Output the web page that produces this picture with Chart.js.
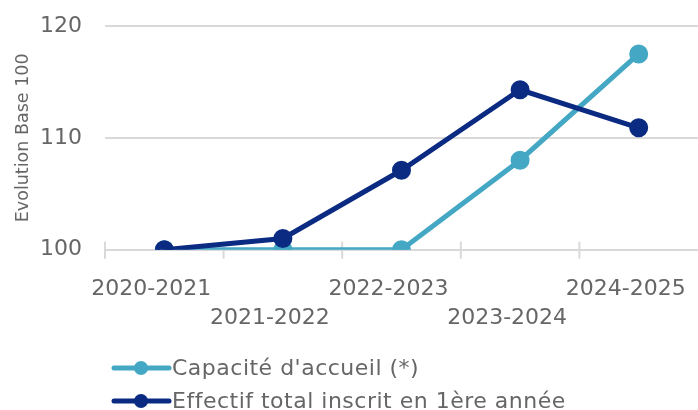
<!DOCTYPE html>
<html>
<head>
<meta charset="utf-8">
<script src="https://cdn.jsdelivr.net/npm/chart.js@4"></script>
<style>
  body { margin: 0; background: #fff; }
  #wrap { position: relative; width: 698px; height: 410px; }
  #legend { position: absolute; left: 111px; top: 351px; font-family: "DejaVu Sans", sans-serif; font-size: 22px; letter-spacing: 0.5px; color: #666; }
  .row { display: flex; align-items: center; height: 33px; white-space: nowrap; }
</style>
</head>
<body>
<div id="wrap">
  <canvas id="chart" width="698" height="410"></canvas>
  <div id="legend"></div>
</div>
<script>
const years = ['2020-2021', '2021-2022', '2022-2023', '2023-2024', '2024-2025'];
const capacite = [100, 100, 100, 108.0, 117.5];
const effectif = [100, 101.0, 107.1, 114.3, 110.9];
const seriesNames = ["Capacité d'accueil (*)", 'Effectif total inscrit en 1ère année'];
const seriesColors = ['#44a8c4', '#0b2a82'];

const grey = '#666';
const gridColor = '#d9d9d9';

// small cross ticks at the category boundaries, like the original
const crossTicks = {
  id: 'crossTicks',
  beforeDatasetsDraw(chart) {
    const x = chart.scales.x;
    const y = chart.scales.y;
    const ctx = chart.ctx;
    const half = (x.getPixelForValue(1) - x.getPixelForValue(0)) / 2;
    const base = y.getPixelForValue(100);
    ctx.save();
    ctx.strokeStyle = gridColor;
    ctx.lineWidth = 2;
    for (let i = 0; i < years.length; i++) {
      const px = x.getPixelForValue(i) - half;
      ctx.beginPath();
      ctx.moveTo(px, base - 8);
      ctx.lineTo(px, base + 9);
      ctx.stroke();
    }
    ctx.restore();
  }
};

// second series is drawn on top
const datasets = [capacite, effectif].map((d, i) => ({
  label: seriesNames[i],
  data: d,
  order: 1 - i,
  borderColor: seriesColors[i],
  backgroundColor: seriesColors[i],
  borderWidth: 5,
  pointRadius: 7,
  pointHoverRadius: 7,
  tension: 0
}));

new Chart(document.getElementById('chart'), {
  type: 'line',
  data: { labels: years, datasets: datasets },
  options: {
    responsive: false,
    animation: false,
    layout: { autoPadding: false, padding: { left: 9, right: 0, top: 26, bottom: 78 } },
    plugins: {
      legend: { display: false },
      tooltip: { enabled: false }
    },
    scales: {
      x: {
        offset: true,
        grid: { display: false, drawTicks: true, tickLength: 26 },
        border: { display: false },
        afterFit: function (s) {
          s.paddingLeft = 0;
          s.paddingRight = 0;
        },
        ticks: {
          color: grey,
          font: { family: 'DejaVu Sans', size: 22, lineHeight: 1.28 },
          padding: 0,
          labelOffset: -13,
          maxRotation: 0,
          autoSkip: false,
          callback: function (v, i) {
            return i % 2 === 0 ? [years[i], ''] : ['', years[i]];
          }
        }
      },
      y: {
        min: 100,
        max: 120,
        grid: { color: gridColor, lineWidth: 2, drawTicks: true, tickLength: 23, tickColor: 'rgba(0,0,0,0)' },
        border: { display: false },
        afterFit: function (s) {
          s.paddingTop = 0;
          s.paddingBottom = 0;
        },
        ticks: {
          stepSize: 10,
          color: grey,
          font: { family: 'DejaVu Sans', size: 22 },
          padding: 0
        },
        title: {
          display: true,
          text: 'Evolution Base 100',
          color: grey,
          font: { family: 'DejaVu Sans', size: 17.5 },
          padding: { top: 4, bottom: 6 }
        }
      }
    }
  },
  plugins: [crossTicks]
});

// legend drawn as html, two left-aligned rows
const legend = document.getElementById('legend');
seriesNames.forEach((name, i) => {
  const row = document.createElement('div');
  row.className = 'row';
  row.innerHTML =
    '<svg width="61" height="16"><line x1="3" y1="8" x2="58" y2="8" stroke="' + seriesColors[i] +
    '" stroke-width="5" stroke-linecap="round"/><circle cx="30" cy="8" r="7" fill="' + seriesColors[i] +
    '"/></svg><span>' + name + '</span>';
  legend.appendChild(row);
});
</script>
</body>
</html>
